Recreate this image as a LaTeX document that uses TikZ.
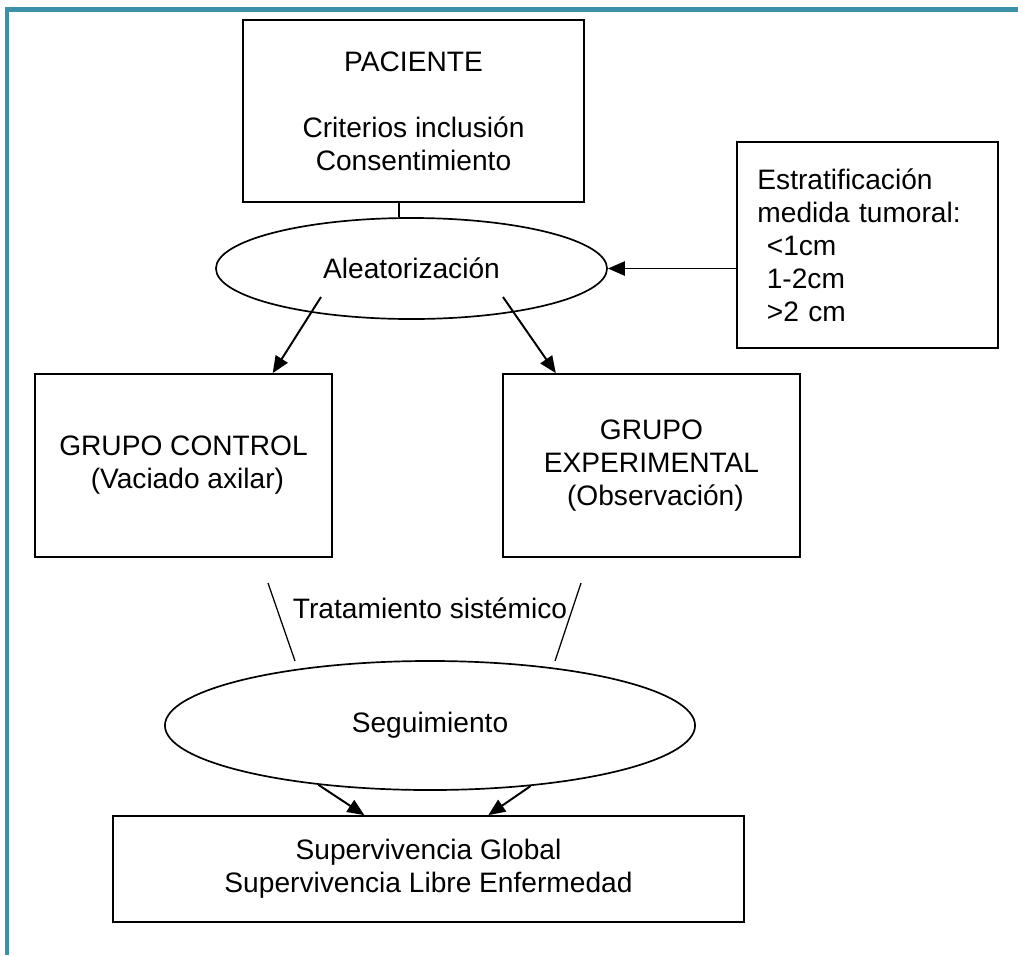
\documentclass[tikz,border=0pt]{standalone}
\usepackage{fontspec}
\setmainfont{Liberation Sans}
\usetikzlibrary{shapes.geometric,arrows.meta}
\definecolor{outline}{HTML}{000000}
\definecolor{frame}{HTML}{3C90A8}

\begin{document}
\begin{tikzpicture}[x=0.025cm,y=-0.025cm,line join=miter,
    font=\fontsize{20}{23.5}\selectfont,
    box/.style={draw=outline,line width=1.2pt,rectangle,inner sep=0pt,align=center},
    oval/.style={draw=outline,line width=1.2pt,ellipse,inner sep=0pt},
    flow/.style={draw=outline,line width=1.4pt,-{Triangle[length=12pt,width=10pt]}}]
  \useasboundingbox (0,0) rectangle (1018,955);
  % frame
  \draw[frame,line width=3pt] (7,955)--(7,9.5)--(1018,9.5);

  \node[box,minimum width=8.525cm,minimum height=4.55cm] (paciente) at (413.5,111)
    {PACIENTE\\[\baselineskip]Criterios inclusión\\Consentimiento};
  \node[oval,minimum width=9.775cm,minimum height=2.525cm] (aleat) at (411.5,268.5) {Aleatorización};
  \node[box,align=left,text width=5.5cm,minimum width=6.525cm,minimum height=5.15cm] (estrat) at (867.5,245)
    {Estratificación\\medida tumoral:\\\ <1cm\\\ 1-2cm\\\ >2 cm};
  \node[box,minimum width=7.425cm,minimum height=4.575cm] (control) at (183.5,465.5)
    {GRUPO CONTROL\\\ (Vaciado axilar)};
  \node[box,minimum width=7.425cm,minimum height=4.575cm] (experim) at (651.5,465.5)
    {GRUPO\\EXPERIMENTAL\\\ (Observación)};
  \node (trat) at (430,608) {Tratamiento sistémico};
  \node[oval,minimum width=13.25cm,minimum height=3.225cm] (segui) at (430,725.5) {Seguimiento};
  \node[box,minimum width=15.775cm,minimum height=2.65cm] (result) at (428.5,869)
    {Supervivencia Global\\Supervivencia Libre Enfermedad};

  \coordinate (ctrlfrom) at (321,297);
  \coordinate (expfrom) at (503,297);
  \coordinate (tratl) at (268,583);
  \coordinate (tratr) at (581,583);

  \draw[outline,line width=1.2pt] (aleat.104) -- (aleat.104 |- paciente.south);
  \draw[flow] (estrat.west |- aleat.east) -- (aleat.east);
  \draw[flow] (ctrlfrom) -- (control.46.6);
  \draw[flow] (expfrom) -- (experim.136.8);
  \draw[outline,line width=0.9pt] (tratl) -- (295,661);
  \draw[outline,line width=0.9pt] (tratr) -- (555,661);
  \draw[flow] (segui.208) -- (result.140.2);
  \draw[flow] (segui.329.2) -- (result.42.2);
\end{tikzpicture}
\end{document}
